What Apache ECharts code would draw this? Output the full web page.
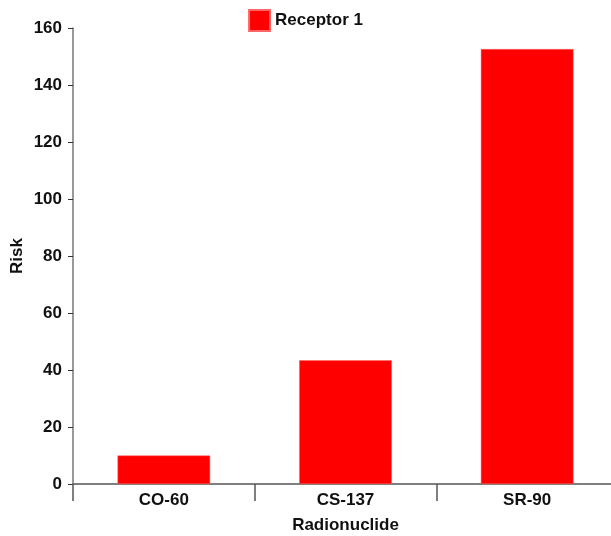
<!DOCTYPE html>
<html>
<head>
<meta charset="utf-8">
<script src="https://cdn.jsdelivr.net/npm/echarts@6/dist/echarts.min.js"></script>
<style>
  html, body { margin: 0; padding: 0; background: #fff; }
  #chart { width: 611px; height: 536px; }
</style>
</head>
<body>
<div id="chart"></div>
<script>
// data
var categories = ['CO-60', 'CS-137', 'SR-90'];
var receptor1 = [10, 43.4, 152.6];
var seriesName = 'Receptor 1';

var chart = echarts.init(document.getElementById('chart'));

var font = 'Liberation Sans, Arial, sans-serif';

var option = {
  animation: false,
  backgroundColor: '#fff',
  legend: {
    data: [seriesName],
    top: 4,
    left: 'center',
    icon: 'rect',
    itemWidth: 21,
    itemHeight: 21,
    itemGap: 10,
    textStyle: { fontFamily: font, fontWeight: 'bold', fontSize: 17, color: '#111' }
  },
  grid: {
    left: 73,
    width: 545,
    top: 28,
    bottom: 52,
    outerBoundsMode: 'none'
  },
  xAxis: {
    type: 'category',
    data: categories,
    name: 'Radionuclide',
    nameLocation: 'middle',
    nameGap: 33,
    nameTextStyle: { fontFamily: font, fontWeight: 'bold', fontSize: 17, color: '#111' },
    axisLine: { lineStyle: { color: '#555', width: 1.5 } },
    axisTick: { show: true, length: 17, lineStyle: { color: '#555', width: 1.5 } },
    axisLabel: { fontFamily: font, fontWeight: 'bold', fontSize: 17, color: '#111', margin: 8 }
  },
  yAxis: {
    type: 'value',
    min: 0,
    max: 160,
    interval: 20,
    name: 'Risk',
    nameLocation: 'middle',
    nameGap: 47,
    nameMoveOverlap: false,
    nameTextStyle: { fontFamily: font, fontWeight: 'bold', fontSize: 17, color: '#111' },
    axisLine: { show: true, lineStyle: { color: '#777', width: 1.5 } },
    axisTick: { show: true, length: 5, lineStyle: { color: '#333' } },
    axisLabel: { fontFamily: font, fontWeight: 'bold', fontSize: 17, color: '#111', margin: 11 },
    splitLine: { show: false }
  },
  series: [
    {
      name: seriesName,
      type: 'bar',
      data: receptor1,
      barWidth: '51%',
      itemStyle: { color: '#ff0000', borderColor: '#ff6666', borderWidth: 0.5 }
    }
  ]
};

chart.setOption(option);
</script>
</body>
</html>
